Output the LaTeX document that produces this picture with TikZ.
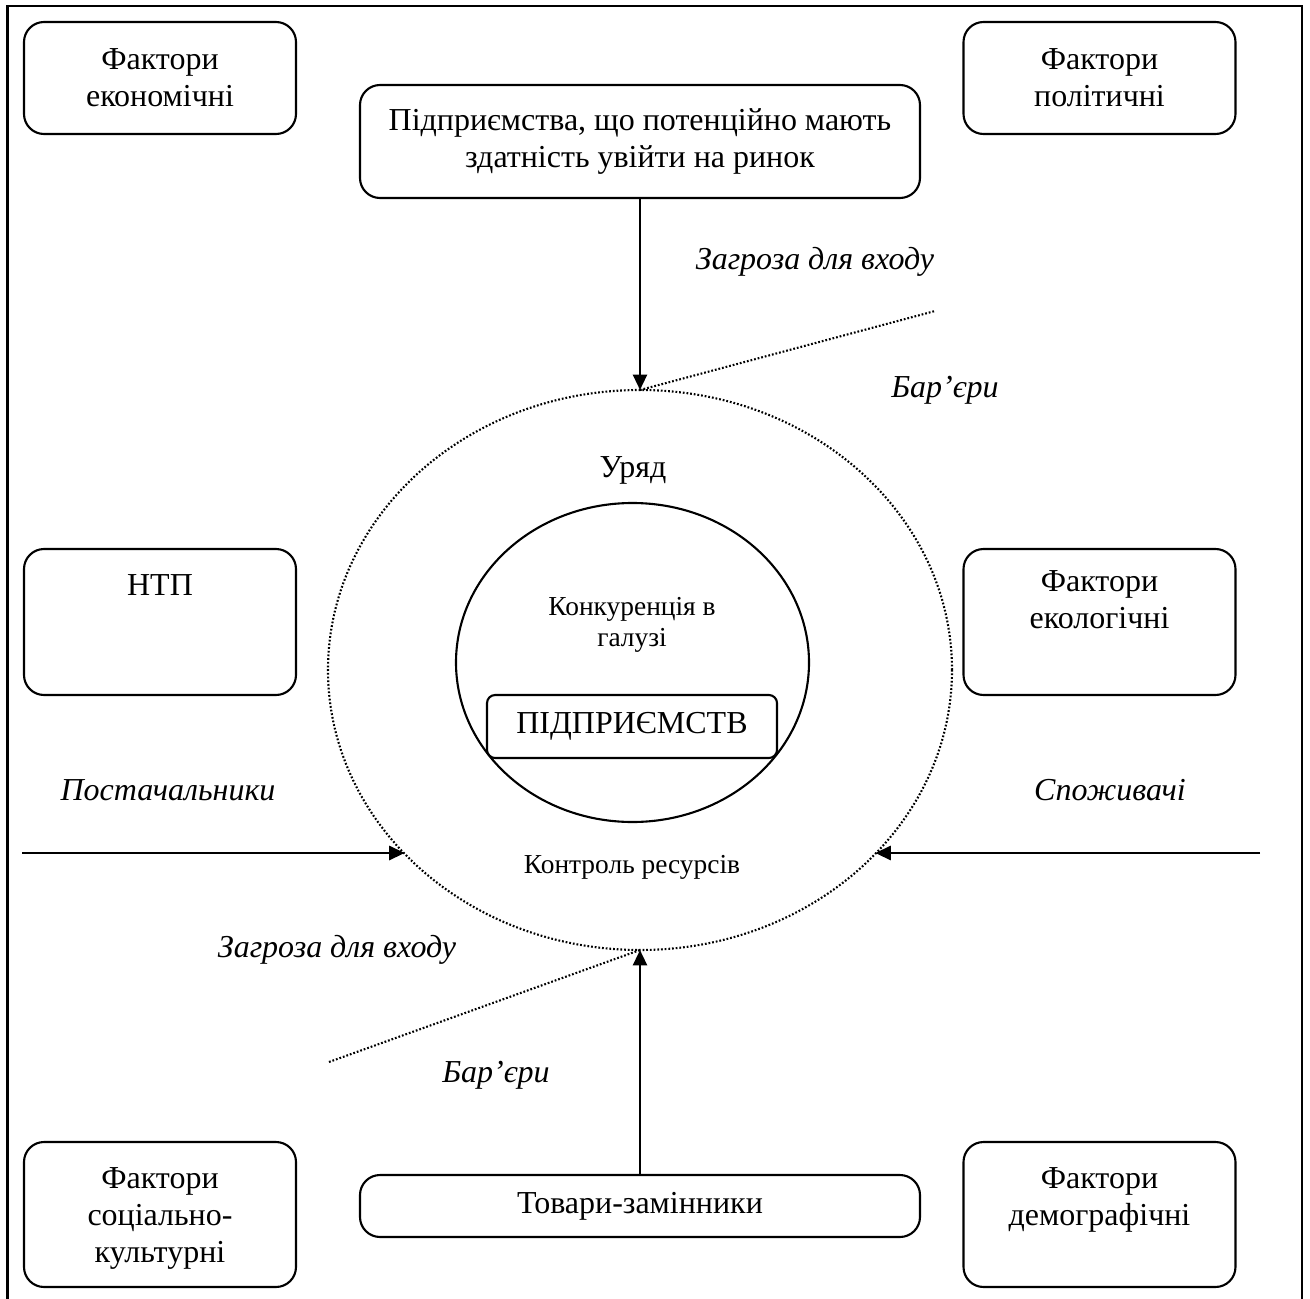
\documentclass[tikz,border=0pt]{standalone}
\usepackage{fontspec}
\setmainfont{Liberation Serif}
\usetikzlibrary{arrows.meta,positioning,shapes.geometric}
\tikzset{
    %Define standard arrow tip
    >={Triangle[length=4.4pt,width=4pt]},
    %Define style for boxes
    factor/.style={
           rectangle,
           rounded corners=5.7pt,
           draw=black, line width=0.6pt,
           minimum width=2.72cm,
           font=\fontsize{9.1pt}{10.45pt}\selectfont,
           align=center,
           inner sep=0pt},
    boxtext/.style={
           font=\fontsize{9.1pt}{10.45pt}\selectfont,
           align=center,
           inner sep=0pt},
    small/.style={
           font=\fontsize{7.8pt}{8.9pt}\selectfont,
           align=center,
           inner sep=0pt},
    force/.style={
           font=\fontsize{9.1pt}{10.45pt}\selectfont\itshape,
           inner sep=0pt},
    % Define arrow style
    pil/.style={
           ->,
           line width=0.7pt},
    barrier/.style={
           line width=0.6pt,
           dash pattern=on 0.5pt off 0.55pt}
}
\begin{document}
\begin{tikzpicture}[node distance=0.45cm]
\useasboundingbox (0,0) rectangle (13.10,-12.99);
\draw[line width=0.6pt] (0.075,-12.99) -- (0.075,-0.06) -- (13.02,-0.06) -- (13.02,-12.99);

\node[factor, minimum height=1.12cm](econ) at (1.60,-0.78){Фактори\\економічні};
\node[factor, minimum height=1.12cm](polit) at (10.995,-0.78){Фактори\\політичні};
\node[factor, minimum width=5.60cm, minimum height=1.13cm](entrants) at (6.40,-1.415){Підприємства, що потенційно мають\\здатність увійти на ринок};
\node[factor, minimum height=1.46cm](ntp) at (1.60,-6.22){};
\node[boxtext, below=0.26cm of ntp.north](ntptext){НТП};
\node[factor, minimum height=1.46cm](ecol) at (10.995,-6.22){};
\node[boxtext, below=0.22cm of ecol.north](ecoltext){Фактори\\екологічні};
\node[factor, minimum height=1.45cm](social) at (1.60,-12.145){};
\node[boxtext, below=0.26cm of social.north](socialtext){Фактори\\соціально-\\культурні};
\node[factor, minimum height=1.45cm](demo) at (10.995,-12.145){};
\node[boxtext, below=0.26cm of demo.north](demotext){Фактори\\демографічні};
\node[factor, minimum width=5.60cm, minimum height=0.62cm](subst) at (6.40,-12.06){Товари-замінники};

\node[ellipse, draw, barrier, minimum width=6.24cm, minimum height=5.60cm, inner sep=0pt, outer sep=0pt](outer) at (6.40,-6.70){};
\node[ellipse, draw, line width=0.6pt, minimum width=3.53cm, minimum height=3.19cm, inner sep=0pt](industry) at (6.325,-6.625){};
\node[boxtext](gov) at (6.33,-4.70){Уряд};
\node[small](compet) at (6.32,-6.25){Конкуренція в\\галузі};
\node[factor, rounded corners=2.3pt, minimum width=2.90cm, minimum height=0.63cm](firm) at (6.32,-7.265){ПІДПРИЄМСТВ};
\node[small](control) at (6.32,-8.67){Контроль ресурсів};

\node[force](threattop) at (8.15,-2.62){Загроза для входу};
\node[force](barriertop) at (9.45,-3.90){Бар’єри};
\node[force](suppl) at (1.68,-7.90){Постачальники};
\node[force](cons) at (11.10,-7.90){Споживачі};
\node[force](threatbot) at (3.37,-9.50){Загроза для входу};
\node[force](barrierbot) at (4.96,-10.75){Бар’єри};

\coordinate (barriertopend) at (9.35,-3.11);
\coordinate (barrierbotend) at (3.29,-10.62);
\coordinate (supplstart) at (0.22,-8.53);
\coordinate (consstart) at (12.60,-8.53);

\path[pil]
	(entrants) edge (outer.north)
	(subst) edge (outer.south)
	(supplstart) edge (supplstart -| outer.218)
	(consstart) edge (consstart -| outer.322);
\path[barrier]
	(outer.north) edge (barriertopend)
	(barrierbotend) edge (outer.south);

\end{tikzpicture}
\end{document}
